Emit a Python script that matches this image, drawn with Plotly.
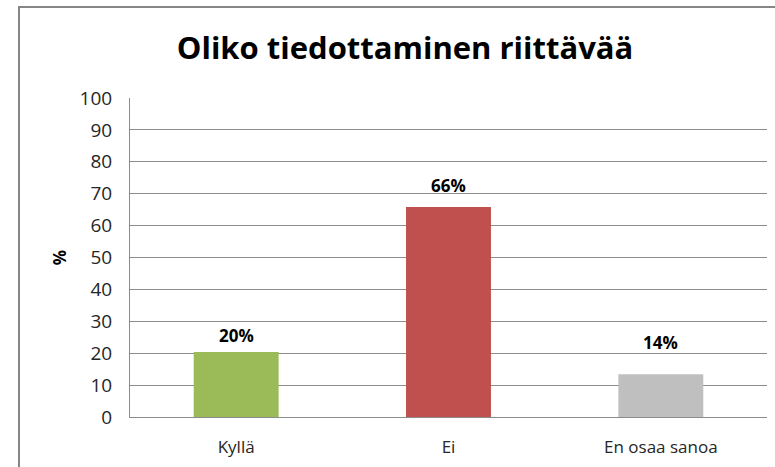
import plotly.graph_objects as go

categories = ["Kyllä", "Ei", "En osaa sanoa"]
values = [20.4, 65.8, 13.4]
value_labels = ["20%", "66%", "14%"]
colors = ["#9BBB59", "#C0504D", "#BFBFBF"]
y_ticks = list(range(0, 101, 10))
label_offsets = [16, 22, 32]

W, H = 775, 467
L, R, T, B = 130, 8, 98, 50
pw, ph = W - L - R, H - T - B
FONT = "Open Sans"

fig = go.Figure()
fig.add_trace(go.Bar(
    x=categories, y=values, marker=dict(color=colors, line=dict(width=0)),
    width=0.4, hoverinfo="skip",
))

for c, v, t, off in zip(categories, values, value_labels, label_offsets):
    fig.add_annotation(x=c, y=v, text="<b>%s</b>" % t, showarrow=False,
                       yanchor="middle", yshift=off,
                       font=dict(family=FONT, size=17, color="#000000"))

fx = (19 - L) / pw
fy = 1 + (T - 7) / ph
fig.add_shape(type="path", xref="paper", yref="paper",
              path="M %f %f L %f %f L %f %f" % (fx, -0.3, fx, fy, 1.1, fy),
              line=dict(color="#868686", width=2))

fig.update_layout(
    width=W, height=H,
    margin=dict(l=L, r=R, t=T, b=B, autoexpand=False),
    paper_bgcolor="white", plot_bgcolor="white",
    showlegend=False,
    title=dict(text="<b>Oliko tiedottaminen riittävää</b>", x=405 / W, xanchor="center",
               y=1 - 48 / H, yanchor="middle", xref="container", yref="container",
               font=dict(family=FONT, size=31, color="#000000")),
    font=dict(family=FONT, size=16, color="#404040"),
    bargap=0.6,
)
fig.update_xaxes(range=[-0.5, 2.5], showgrid=False, showline=True, linecolor="#8c8c8c",
                 linewidth=1, ticks="", tickfont=dict(family=FONT, size=17, color="#262626"),
                 ticklabelstandoff=15)
fig.update_yaxes(range=[0, 100], tickvals=y_ticks, showgrid=True, gridcolor="#8c8c8c",
                 gridwidth=1, showline=True, linecolor="#8c8c8c", linewidth=1,
                 ticks="", ticklabelstandoff=13, zeroline=False,
                 tickfont=dict(family=FONT, size=19, color="#262626"),
                 title=dict(text="<b>%</b>", standoff=8, font=dict(family=FONT, size=17, color="#000000")))

fig.write_html("out.html", config={"displayModeBar": False},
               post_script="document.body.style.margin='0px';")
